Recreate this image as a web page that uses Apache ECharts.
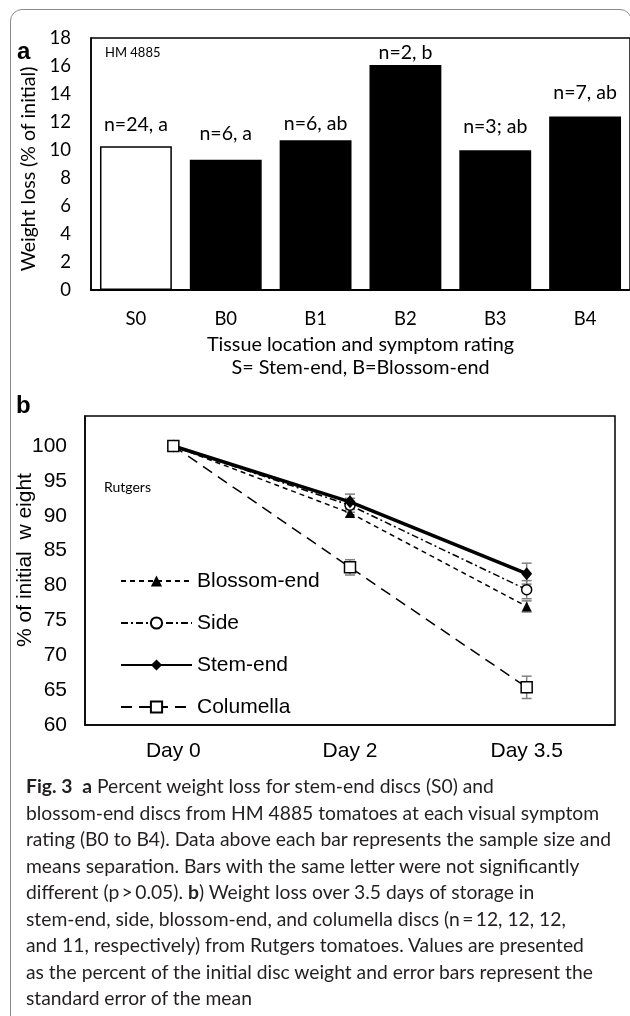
<!DOCTYPE html>
<html><head><meta charset="utf-8">
<script src="https://cdn.jsdelivr.net/npm/echarts@6/dist/echarts.min.js"></script>
<style>
html,body{margin:0;padding:0;background:#fff;}
#wrap{position:relative;width:630px;height:1016px;overflow:hidden;background:#fff;}
#card{position:absolute;left:10px;top:9px;width:620px;height:1100px;border:1.5px solid #8a8a8a;border-radius:12px;}
#chart{position:absolute;left:0;top:0;width:630px;height:1016px;}
#caption{position:absolute;left:26px;top:773px;font-family:Lato,sans-serif;font-size:19.3px;line-height:26.5px;color:#231f20;white-space:nowrap;}
#caption b{font-weight:bold;}
</style></head>
<body>
<div id="wrap">
<div id="card"></div>
<div id="chart"></div>
<div id="caption"><b>Fig. 3</b>&nbsp;&nbsp;<b>a</b> Percent weight loss for stem-end discs (S0) and<br>blossom-end discs from HM 4885 tomatoes at each visual symptom<br>rating (B0 to B4). Data above each bar represents the sample size and<br>means separation. Bars with the same letter were not significantly<br>different (p&thinsp;&gt;&thinsp;0.05). <b>b</b>) Weight loss over 3.5 days of storage in<br>stem-end, side, blossom-end, and columella discs (n&thinsp;=&thinsp;12, 12, 12,<br>and 11, respectively) from Rutgers tomatoes. Values are presented<br>as the percent of the initial disc weight and error bars represent the<br>standard error of the mean</div>
</div>
<script>
// ---- Panel a data ----
const categoriesA = ['S0', 'B0', 'B1', 'B2', 'B3', 'B4'];
const weightLossA = [10.26, 9.31, 10.69, 16.08, 9.98, 12.39];
const barLabelsA = ['n=24, a', 'n=6, a', 'n=6, ab', 'n=2, b', 'n=3; ab', 'n=7, ab'];
const yTicksA = [0, 2, 4, 6, 8, 10, 12, 14, 16, 18];

// ---- Panel b data ----
const daysB = ['Day 0', 'Day 2', 'Day 3.5'];
const blossomEnd = [100, 90.4, 77.0];
const blossomEndSE = [0, 0.6, 0.8];
const side = [100, 91.5, 79.4];
const sideSE = [0, 1.0, 1.3];
const stemEnd = [100, 92.0, 81.7];
const stemEndSE = [0, 1.1, 1.5];
const columella = [100, 82.6, 65.4];
const columellaSE = [0, 1.1, 1.6];
const yTicksB = [60, 65, 70, 75, 80, 85, 90, 95, 100];

// label offsets above bars (px)
const labelDist = [12, 16, 7, 2, 14, 14];

const chart = echarts.init(document.getElementById('chart'), null, {renderer: 'canvas'});

const seriesB = [
  {name: 'Blossom-end', values: blossomEnd, se: blossomEndSE},
  {name: 'Side', values: side, se: sideSE},
  {name: 'Stem-end', values: stemEnd, se: stemEndSE},
  {name: 'Columella', values: columella, se: columellaSE}
];
const errData = [];
seriesB.forEach(s => s.values.forEach((v, i) => errData.push([i, v, s.se[i]])));

const fA = 'Lato';
const fB = 'Liberation Sans';

const option = {
  animation: false,
  backgroundColor: 'transparent',
  grid: [
    {left: 91, top: 38, width: 540, height: 252, show: true, borderColor: '#000', borderWidth: 1.5, backgroundColor: 'transparent'},
    {left: 85, top: 416, width: 530, height: 309, show: true, borderColor: '#000', borderWidth: 1.5, backgroundColor: 'transparent'}
  ],
  xAxis: [
    {
      gridIndex: 0, type: 'category', data: categoriesA, boundaryGap: true,
      axisLine: {lineStyle: {color: '#000', width: 2}}, axisTick: {show: false},
      axisLabel: {color: '#000', fontFamily: fA, fontSize: 18.5, margin: 20},
      name: 'Tissue location and symptom rating\nS= Stem-end, B=Blossom-end',
      nameLocation: 'middle', nameGap: 43,
      nameTextStyle: {color: '#000', fontFamily: fA, fontSize: 19.8, lineHeight: 23}
    },
    {
      gridIndex: 1, type: 'category', data: daysB, boundaryGap: true,
      axisLine: {lineStyle: {color: '#000', width: 1.5}}, axisTick: {show: false},
      axisLabel: {color: '#000', fontFamily: fB, fontSize: 21, margin: 16}
    }
  ],
  yAxis: [
    {
      gridIndex: 0, type: 'value', min: yTicksA[0], max: yTicksA[yTicksA.length - 1], interval: yTicksA[1] - yTicksA[0],
      axisLine: {show: true, lineStyle: {color: '#000', width: 1.5}}, axisTick: {show: false}, splitLine: {show: false},
      axisLabel: {color: '#000', fontFamily: fA, fontSize: 18.5, margin: 20}
    },
    {
      gridIndex: 1, type: 'value', min: yTicksB[0], max: 104.3, interval: yTicksB[1] - yTicksB[0],
      axisLine: {show: true, lineStyle: {color: '#000', width: 1.5}}, axisTick: {show: false}, splitLine: {show: false},
      axisLabel: {color: '#000', fontFamily: fB, fontSize: 21, margin: 18, showMaxLabel: false,
        formatter: v => (yTicksB.indexOf(v) >= 0 ? String(v) : '')}
    }
  ],
  legend: {
    orient: 'vertical', left: 120, top: 570, padding: 0, itemWidth: 71, itemHeight: 14, itemGap: 20,
    data: ['Blossom-end', 'Side', 'Stem-end', 'Columella'],
    textStyle: {color: '#000', fontFamily: fB, fontSize: 21, lineHeight: 22},
    inactiveColor: '#000'
  },
  graphic: [
    {type: 'text', left: 17, top: 40, style: {text: 'a', font: 'bold 24px "Liberation Sans"', fill: '#000'}},
    {type: 'text', left: 105, top: 46, style: {text: 'HM 4885', font: '13px Lato', fill: '#000'}},
    {type: 'text', x: 29, y: 169, rotation: Math.PI / 2, style: {text: 'Weight loss (% of initial)', font: '19.5px Lato', fill: '#000', align: 'center', verticalAlign: 'middle'}},
    {type: 'text', left: 16, top: 394, style: {text: 'b', font: 'bold 24px "Liberation Sans"', fill: '#000'}},
    {type: 'text', left: 104, top: 480, style: {text: 'Rutgers', font: '14px Lato', fill: '#000'}},
    {type: 'text', x: 25, y: 560, rotation: Math.PI / 2, style: {text: '% of initial  w eight', font: '21px "Liberation Sans"', fill: '#000', align: 'center', verticalAlign: 'middle'}}
  ],
  series: [
    {
      type: 'bar', xAxisIndex: 0, yAxisIndex: 0, barWidth: '80%',
      data: weightLossA.map((v, i) => ({
        value: v,
        itemStyle: i === 0 ? {color: '#fff', borderColor: '#000', borderWidth: 1.5} : {color: '#000'},
        label: {show: true, position: 'top', distance: labelDist[i], formatter: barLabelsA[i],
          color: '#000', fontFamily: fA, fontSize: 19.5}
      }))
    },
    {
      type: 'custom', xAxisIndex: 1, yAxisIndex: 1, z: 1, data: errData,
      encode: {x: 0, y: 1},
      renderItem: function (params, api) {
        const x = api.value(0), v = api.value(1), e = api.value(2);
        if (!e) return null;
        const t = api.coord([x, v + e]), b = api.coord([x, v - e]);
        const hw = 5, st = {stroke: '#808080', lineWidth: 1.5};
        return {type: 'group', children: [
          {type: 'line', shape: {x1: t[0], y1: t[1], x2: b[0], y2: b[1]}, style: st},
          {type: 'line', shape: {x1: t[0] - hw, y1: t[1], x2: t[0] + hw, y2: t[1]}, style: st},
          {type: 'line', shape: {x1: b[0] - hw, y1: b[1], x2: b[0] + hw, y2: b[1]}, style: st}
        ]};
      }
    },
    {
      name: 'Blossom-end', type: 'line', xAxisIndex: 1, yAxisIndex: 1, z: 3, data: blossomEnd,
      symbol: 'triangle', symbolSize: 10,
      lineStyle: {color: '#000', width: 1.5, type: [5, 4]},
      itemStyle: {color: '#000'}
    },
    {
      name: 'Side', type: 'line', xAxisIndex: 1, yAxisIndex: 1, z: 4, data: side,
      symbol: 'circle', symbolSize: 10,
      lineStyle: {color: '#000', width: 1.5, type: [7, 3, 2, 3]},
      itemStyle: {color: '#fff', borderColor: '#000', borderWidth: 1.5}
    },
    {
      name: 'Stem-end', type: 'line', xAxisIndex: 1, yAxisIndex: 1, z: 5, data: stemEnd,
      symbol: 'diamond', symbolSize: [11, 13],
      lineStyle: {color: '#000', width: 3.5, type: 'solid'},
      itemStyle: {color: '#000'}
    },
    {
      name: 'Columella', type: 'line', xAxisIndex: 1, yAxisIndex: 1, z: 6, data: columella,
      symbol: 'rect', symbolSize: 11,
      lineStyle: {color: '#000', width: 1.5, type: [11, 7]},
      itemStyle: {color: '#fff', borderColor: '#000', borderWidth: 1.5}
    }
  ]
};
chart.setOption(option);
</script>
</body></html>
